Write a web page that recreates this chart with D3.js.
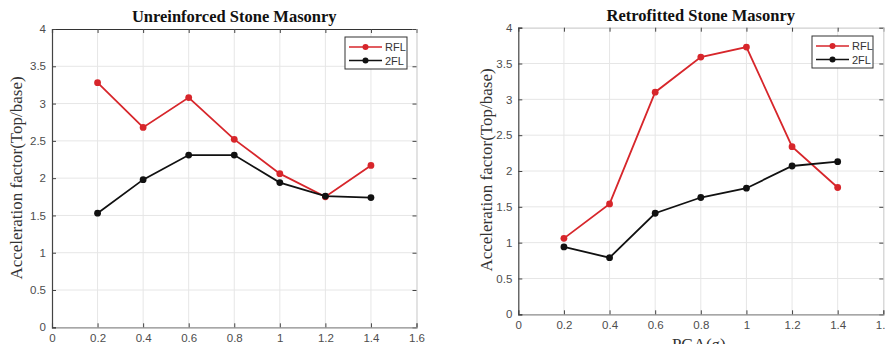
<!DOCTYPE html>
<html><head><meta charset="utf-8">
<script src="https://cdn.jsdelivr.net/npm/d3@7"></script>
<style>body{margin:0;background:#fff}svg{display:block}</style>
</head><body>
<svg id="c" width="885" height="344"></svg>
<script>
const pga = [0.2, 0.4, 0.6, 0.8, 1.0, 1.2, 1.4];
const urmRFL = [3.28, 2.68, 3.08, 2.52, 2.06, 1.75, 2.17];
const urm2FL = [1.53, 1.98, 2.31, 2.31, 1.94, 1.76, 1.74];
const retRFL = [1.06, 1.54, 3.10, 3.59, 3.73, 2.34, 1.77];
const ret2FL = [0.94, 0.79, 1.41, 1.63, 1.76, 2.07, 2.13];
const xTicks = [0, 0.2, 0.4, 0.6, 0.8, 1, 1.2, 1.4, 1.6];
const yTicks = [0, 0.5, 1, 1.5, 2, 2.5, 3, 3.5, 4];
const seriesNames = ["RFL", "2FL"];
const seriesColors = ["#d7262b", "#111111"];

const svg = d3.select("#c");

function panel(o) {
  const x = d3.scaleLinear().domain([0, 1.6]).range([o.x0, o.x1]);
  const y = d3.scaleLinear().domain([0, 4]).range([o.y0, o.y1]);
  const g = svg.append("g");
  // grid
  g.selectAll(".gx").data(xTicks.slice(1, -1)).join("line")
    .attr("x1", d => x(d)).attr("x2", d => x(d)).attr("y1", o.y0).attr("y2", o.y1)
    .attr("stroke", "#e6e6e6").attr("stroke-width", 1);
  g.selectAll(".gy").data(yTicks.slice(1, -1)).join("line")
    .attr("y1", d => y(d)).attr("y2", d => y(d)).attr("x1", o.x0).attr("x2", o.x1)
    .attr("stroke", "#e6e6e6").attr("stroke-width", 1);
  // axes
  const xa = d3.axisBottom(x).tickValues(xTicks).tickSize(-4).tickPadding(o.xpad).tickFormat(d3.format("~g"));
  const ya = d3.axisLeft(y).tickValues(yTicks).tickSize(-4).tickPadding(6).tickFormat(d3.format("~g"));
  const xt = d3.axisTop(x).tickValues(xTicks).tickSize(-4).tickFormat("");
  const yr = d3.axisRight(y).tickValues(yTicks).tickSize(-4).tickFormat("");
  function style(sel, col) {
    sel.select(".domain").attr("stroke", col).attr("stroke-width", 1.2);
    sel.selectAll(".tick line").attr("stroke", "#444");
    sel.selectAll(".tick text").attr("fill", "#4d4d4d")
      .style("font-family", "Liberation Sans, Arial, sans-serif").style("font-size", "11.5px");
  }
  g.append("g").attr("transform", `translate(0,${o.y1})`).call(xt).call(s => style(s, o.topCol));
  g.append("g").attr("transform", `translate(${o.x1},0)`).call(yr).call(s => style(s, "#d0d0d0"));
  g.append("g").attr("transform", `translate(0,${o.y0})`).call(xa).call(s => style(s, "#8a8a8a"));
  g.append("g").attr("transform", `translate(${o.x0},0)`).call(ya).call(s => style(s, "#444"));
  // title
  g.append("text").attr("x", (o.x0 + o.x1) / 2 + o.tdx).attr("y", o.y1 - 7)
    .attr("text-anchor", "middle").style("font-family", "Liberation Serif, Times New Roman, serif")
    .style("font-weight", "bold").style("font-size", "16.5px").attr("fill", "#111").text(o.title);
  // y label
  g.append("text").attr("transform", `translate(${o.ylx},${o.yly}) rotate(-90)`)
    .attr("text-anchor", "middle").style("font-family", "Liberation Serif, Times New Roman, serif")
    .style("font-size", "17px").attr("fill", "#333").text("Acceleration factor(Top/base)");
  if (o.xlabel) {
    g.append("text").attr("x", (o.x0 + o.x1) / 2 - 2).attr("y", o.xly)
      .attr("text-anchor", "middle").style("font-family", "Liberation Serif, Times New Roman, serif")
      .style("font-size", "17px").attr("fill", "#333").text(o.xlabel);
  }
  // series
  const line = d3.line().x((d, i) => x(pga[i])).y(d => y(d));
  [o.rfl, o.f2].forEach((vals, k) => {
    g.append("path").datum(vals).attr("d", line).attr("fill", "none")
      .attr("stroke", seriesColors[k]).attr("stroke-width", 1.8);
    g.selectAll(null).data(vals).join("circle")
      .attr("cx", (d, i) => x(pga[i])).attr("cy", d => y(d)).attr("r", 3.4)
      .attr("fill", seriesColors[k]);
  });
  // legend
  const lg = g.append("g").attr("transform", `translate(${o.lx},${o.ly})`);
  lg.append("rect").attr("width", o.lw).attr("height", 32).attr("fill", "#fff")
    .attr("stroke", "#333").attr("stroke-width", 1);
  seriesNames.forEach((n, k) => {
    const yy = 10 + k * 13.5;
    lg.append("line").attr("x1", 4).attr("x2", 37).attr("y1", yy).attr("y2", yy)
      .attr("stroke", seriesColors[k]).attr("stroke-width", 1.6);
    lg.append("circle").attr("cx", 20.5).attr("cy", yy).attr("r", 3).attr("fill", seriesColors[k]);
    lg.append("text").attr("x", 40).attr("y", yy + 4).style("font-family", "Liberation Sans, Arial, sans-serif")
      .style("font-size", "11px").attr("fill", "#333").text(n);
  });
}

panel({x0: 52, x1: 416.5, y0: 327.3, y1: 29, xpad: 7, topCol: "#333", tdx: 0,
  title: "Unreinforced Stone Masonry", ylx: 22, yly: 178, xlabel: null,
  rfl: urmRFL, f2: urm2FL, lx: 345, ly: 37, lw: 62});
panel({x0: 518.3, x1: 883.3, y0: 314.3, y1: 27.7, xpad: 7, topCol: "#d0d0d0", tdx: 0,
  title: "Retrofitted Stone Masonry", ylx: 492, yly: 170, xlabel: "PGA(g)", xly: 350,
  rfl: retRFL, f2: ret2FL, lx: 812, ly: 36, lw: 61});
</script>
</body></html>
